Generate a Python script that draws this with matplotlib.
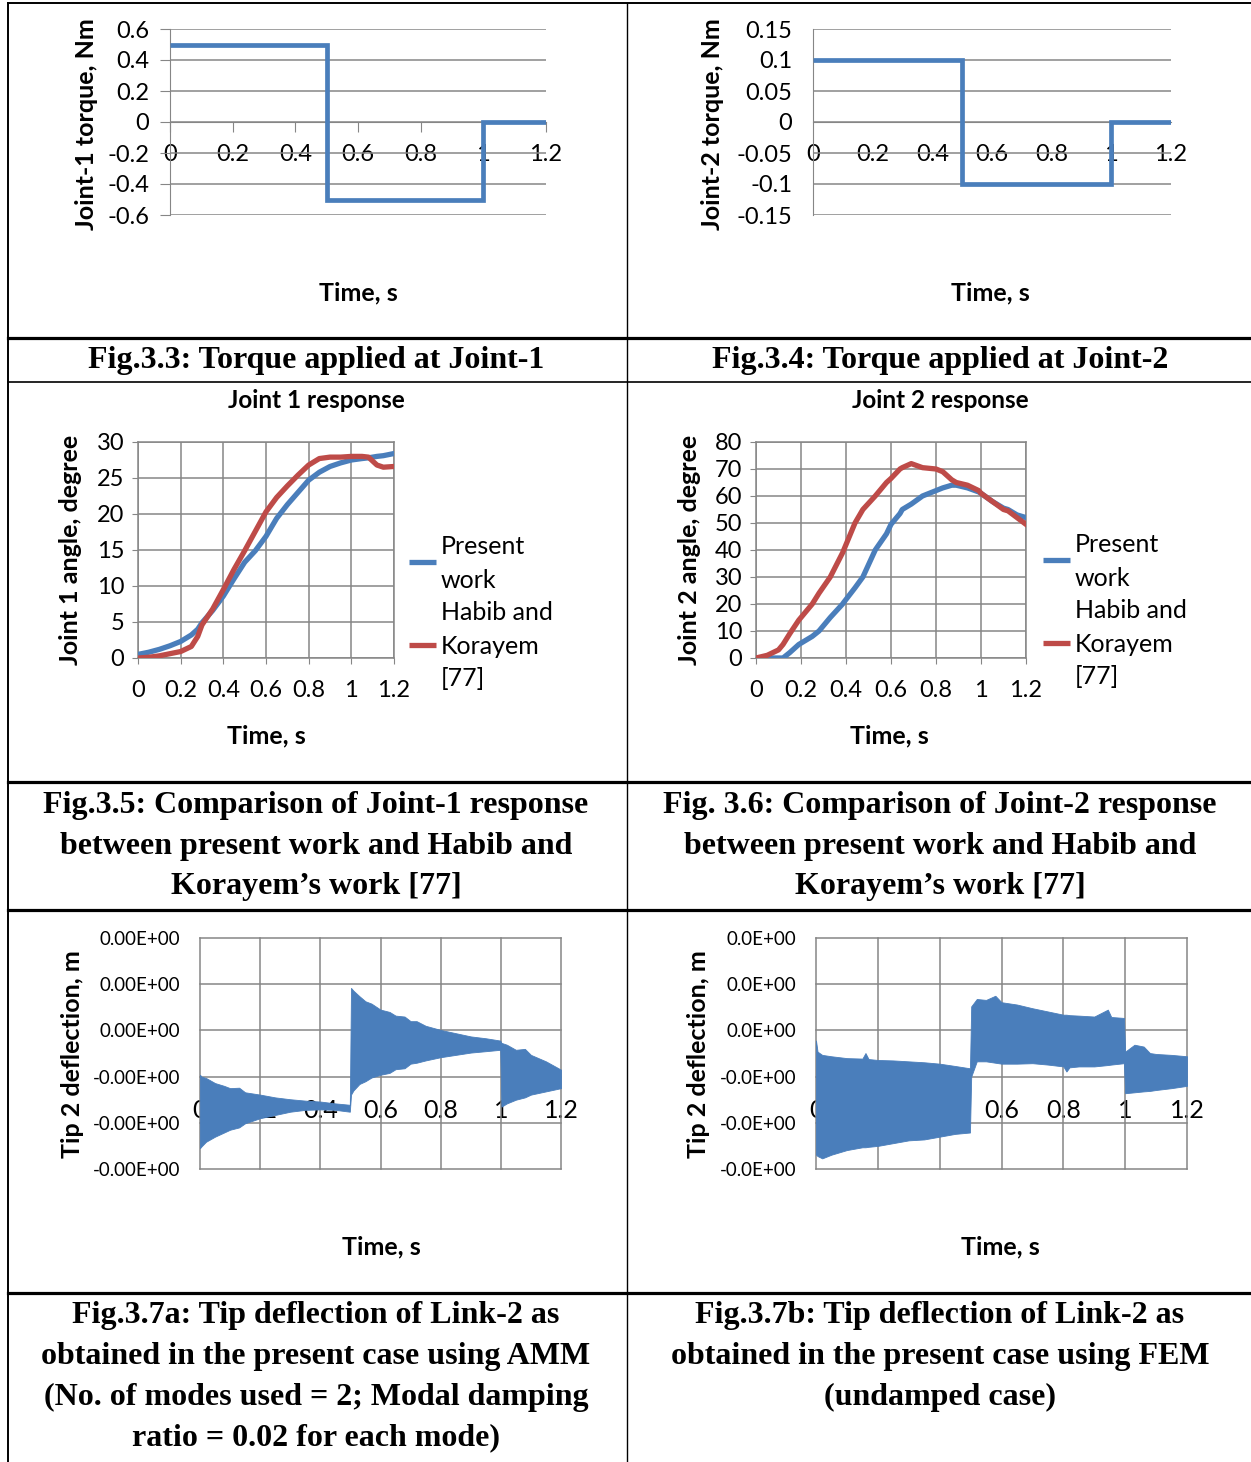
import matplotlib.pyplot as plt
from matplotlib.lines import Line2D

# ---- data ----
t_step = [0.0, 0.5, 0.5, 1.0, 1.0, 1.2]
torque1 = [0.5, 0.5, -0.5, -0.5, 0.0, 0.0]
torque2 = [0.1, 0.1, -0.1, -0.1, 0.0, 0.0]

time_ticks = [0, 0.2, 0.4, 0.6, 0.8, 1.0, 1.2]
time_labels = ['0', '0.2', '0.4', '0.6', '0.8', '1', '1.2']
tq1_ticks = [0.6, 0.4, 0.2, 0, -0.2, -0.4, -0.6]
tq1_labels = ['0.6', '0.4', '0.2', '0', '-0.2', '-0.4', '-0.6']
tq2_ticks = [0.15, 0.1, 0.05, 0, -0.05, -0.1, -0.15]
tq2_labels = ['0.15', '0.1', '0.05', '0', '-0.05', '-0.1', '-0.15']

# joint 1 response (degree)
t_j1 = [0, 0.05, 0.1, 0.15, 0.2, 0.25, 0.28, 0.3, 0.35, 0.4, 0.45, 0.5, 0.55, 0.6,
        0.65, 0.7, 0.75, 0.8, 0.85, 0.9, 0.95, 1.0, 1.05, 1.08, 1.12, 1.15, 1.2]
j1_present = [0.5, 0.8, 1.2, 1.7, 2.3, 3.2, 4.0, 4.9, 6.6, 8.6, 11.0, 13.3, 14.9, 16.9,
              19.4, 21.3, 23.0, 24.7, 25.8, 26.6, 27.1, 27.5, 27.7, 27.8, 28.0, 28.1, 28.4]
j1_habib = [0.0, 0.1, 0.3, 0.6, 0.9, 1.6, 3.0, 4.6, 6.8, 9.5, 12.3, 14.9, 17.6, 20.3,
            22.3, 23.9, 25.4, 26.8, 27.7, 27.9, 27.9, 28.0, 28.0, 27.9, 26.8, 26.5, 26.6]

# joint 2 response (degree)
t_j2 = [0, 0.05, 0.1, 0.12, 0.15, 0.19, 0.25, 0.28, 0.33, 0.385, 0.39, 0.44, 0.475, 0.53,
        0.58, 0.6, 0.64, 0.65, 0.69, 0.74, 0.8, 0.83, 0.87, 0.89, 0.94, 0.99, 1.0,
        1.05, 1.1, 1.12, 1.16, 1.2]
j2_present = [0.0, 0.0, 0.0, 0.0, 2.0, 5.0, 8.0, 10.0, 15.0, 20.0, 20.6, 26.0, 30.0, 40.0,
              46.0, 49.5, 53.5, 55.0, 57.0, 60.0, 62.0, 63.0, 64.0, 64.0, 63.0, 61.5, 61.0,
              58.0, 55.5, 55.0, 53.0, 52.0]
j2_habib = [0.0, 1.0, 3.0, 5.0, 9.0, 14.0, 20.0, 24.0, 30.0, 39.0, 40.0, 50.0, 55.0, 60.0,
            65.0, 66.5, 70.0, 70.5, 72.0, 70.5, 70.0, 69.0, 66.0, 65.0, 64.0, 62.0, 61.0,
            58.0, 55.0, 54.5, 52.0, 49.5]
j1_ticks = [0, 5, 10, 15, 20, 25, 30]
j2_ticks = [0, 10, 20, 30, 40, 50, 60, 70, 80]

# tip deflection envelopes (mm), AMM
t_amm = [0.0, 0.005, 0.02, 0.05, 0.08, 0.1, 0.13, 0.15, 0.2, 0.25, 0.3, 0.35, 0.4, 0.45,
         0.498, 0.502, 0.51, 0.53, 0.55, 0.57, 0.6, 0.63, 0.65, 0.68, 0.7, 0.72, 0.75,
         0.8, 0.85, 0.9, 0.95, 0.998, 1.002, 1.02, 1.05, 1.08, 1.1, 1.15, 1.2]
amm_upper = [-0.96, -1.00, -1.03, -1.14, -1.20, -1.25, -1.24, -1.34, -1.39, -1.45, -1.49,
             -1.52, -1.54, -1.58, -1.61, 0.92, 0.86, 0.74, 0.63, 0.58, 0.45, 0.40, 0.32,
             0.30, 0.20, 0.20, 0.10, 0.01, -0.06, -0.13, -0.17, -0.22, -0.27, -0.31,
             -0.42, -0.40, -0.53, -0.67, -0.85]
amm_lower = [-2.55, -2.51, -2.41, -2.30, -2.21, -2.15, -2.10, -2.01, -1.90, -1.83, -1.76,
             -1.72, -1.71, -1.72, -1.76, -1.39, -1.30, -1.16, -1.10, -1.02, -0.96, -0.92,
             -0.84, -0.82, -0.72, -0.70, -0.65, -0.58, -0.53, -0.48, -0.45, -0.42, -1.65,
             -1.58, -1.50, -1.45, -1.39, -1.32, -1.25]

# tip deflection envelopes (mm), FEM
t_fem = [0.0, 0.005, 0.02, 0.05, 0.1, 0.15, 0.16, 0.17, 0.2, 0.25, 0.3, 0.35, 0.4, 0.45,
         0.498, 0.502, 0.52, 0.55, 0.58, 0.6, 0.65, 0.7, 0.75, 0.8, 0.81, 0.82, 0.85, 0.9,
         0.944, 0.955, 0.996, 1.0, 1.03, 1.06, 1.08, 1.1, 1.15, 1.2]
fem_upper = [-0.22, -0.46, -0.53, -0.56, -0.60, -0.61, -0.49, -0.62, -0.64, -0.65, -0.67,
             -0.69, -0.72, -0.77, -0.82, 0.52, 0.68, 0.66, 0.75, 0.61, 0.56, 0.48, 0.41,
             0.34, 0.34, 0.33, 0.32, 0.30, 0.45, 0.29, 0.27, -0.46, -0.31, -0.35, -0.49,
             -0.51, -0.53, -0.56]
fem_lower = [-2.69, -2.72, -2.77, -2.69, -2.59, -2.53, -2.53, -2.52, -2.50, -2.44, -2.38,
             -2.36, -2.30, -2.24, -2.21, -1.00, -0.67, -0.67, -0.70, -0.72, -0.72, -0.71,
             -0.74, -0.78, -0.89, -0.80, -0.78, -0.78, -0.75, -0.74, -0.71, -1.36, -1.34,
             -1.32, -1.31, -1.29, -1.25, -1.20]
defl_ticks = [2, 1, 0, -1, -2, -3]
amm_labels = ['0.00E+00', '0.00E+00', '0.00E+00', '-0.00E+00', '-0.00E+00', '-0.00E+00']
fem_labels = ['0.0E+00', '0.0E+00', '0.0E+00', '-0.0E+00', '-0.0E+00', '-0.0E+00']

legend_present = ['Present', 'work']
legend_habib = ['Habib and', 'Korayem', '[77]']

BLUE = '#4A7EBB'
RED = '#BE4B48'
GRID = '#868686'
SANS = 'Lato'
SERIF = 'Liberation Serif'
TICK = 17
LABEL = 18

W, H = 1251, 1462
fig = plt.figure(figsize=(W / 100, H / 100), dpi=100)


def box(x0, y0, x1, y1):
    return fig.add_axes([x0 / W, 1 - y1 / H, (x1 - x0) / W, (y1 - y0) / H])


def ftext(x, y, s, **kw):
    kw.setdefault('family', SANS)
    fig.text(x / W, 1 - y / H, s, **kw)


def fline(xs, ys, **kw):
    fig.add_artist(Line2D([x / W for x in xs], [1 - y / H for y in ys],
                          transform=fig.transFigure, **kw))


def torque_chart(ax, tau, yticks, ylabels, ticklen, xpad, ypad):
    ax.plot(t_step, tau, color=BLUE, lw=3.4, solid_capstyle='butt',
            solid_joinstyle='miter', zorder=3)
    ax.set_xlim(0, 1.2)
    ax.set_ylim(yticks[-1], yticks[0])
    ax.set_yticks(yticks)
    ax.set_yticklabels(ylabels)
    ax.set_xticks(time_ticks)
    ax.set_xticklabels(time_labels)
    ax.yaxis.grid(True, color=GRID, lw=1.1)
    ax.set_axisbelow(True)
    ax.spines['top'].set_visible(False)
    ax.spines['right'].set_visible(False)
    ax.spines['left'].set_color(GRID)
    ax.spines['bottom'].set_color(GRID)
    ax.spines['bottom'].set_position(('data', 0))
    ax.tick_params(axis='x', direction='out', length=ticklen, color=GRID, pad=xpad,
                   labelsize=TICK)
    ax.tick_params(axis='y', direction='out', length=ticklen, color=GRID, pad=ypad,
                   labelsize=TICK)
    for lab in ax.get_xticklabels() + ax.get_yticklabels():
        lab.set_family(SANS)


def response_chart(ax, t, present, habib, yticks):
    ax.plot(t, present, color=BLUE, lw=3.8, zorder=3)
    ax.plot(t, habib, color=RED, lw=3.8, zorder=4)
    ax.set_xlim(0, 1.2)
    ax.set_ylim(yticks[0], yticks[-1])
    ax.set_xticks(time_ticks)
    ax.set_xticklabels(time_labels)
    ax.set_yticks(yticks)
    ax.grid(True, color=GRID, lw=1.1)
    ax.set_axisbelow(True)
    for s in ax.spines.values():
        s.set_color(GRID)
        s.set_linewidth(1.1)
    ax.tick_params(axis='x', direction='out', length=4, color=GRID, pad=12, labelsize=TICK)
    ax.tick_params(axis='y', direction='out', length=4, color=GRID, pad=6, labelsize=TICK)
    for lab in ax.get_xticklabels() + ax.get_yticklabels():
        lab.set_family(SANS)


def deflection_chart(ax, t, upper, lower, ylabels):
    ax.fill_between(t, lower, upper, color=BLUE, lw=0.6, edgecolor=BLUE, zorder=2)
    ax.set_xlim(0, 1.2)
    ax.set_ylim(-3, 2)
    for v in time_ticks:
        ax.axvline(v, color=GRID, lw=1.1, zorder=1, clip_on=False)
    for v in defl_ticks:
        ax.axhline(v, color=GRID, lw=1.1, zorder=1, clip_on=False)
    ax.set_xticks(time_ticks)
    ax.set_xticklabels(time_labels)
    ax.set_yticks(defl_ticks)
    ax.set_yticklabels(ylabels)
    ax.set_axisbelow(True)
    for s in ax.spines.values():
        s.set_visible(False)
    ax.spines['bottom'].set_position(('data', -1.45))
    ax.tick_params(axis='x', length=0, pad=1, labelsize=18)
    ax.tick_params(axis='y', length=0, pad=14, labelsize=13.5)
    for lab in ax.get_xticklabels() + ax.get_yticklabels():
        lab.set_family(SANS)


def legend(x0, y_blue, y_red, ys_text):
    fline([x0, x0 + 27], [y_blue, y_blue], color=BLUE, lw=3.8, solid_capstyle='butt')
    fline([x0, x0 + 27], [y_red, y_red], color=RED, lw=3.8, solid_capstyle='butt')
    for s, y in zip(legend_present + legend_habib, ys_text):
        ftext(x0 + 32, y, s, ha='left', va='center', fontsize=18)


def ylab(x, y, s):
    ftext(x, y, s, rotation=90, ha='center', va='center', fontsize=LABEL, fontweight='bold')


def xlab(x, y, s):
    ftext(x, y, s, ha='center', va='center', fontsize=LABEL, fontweight='bold')


# ---- row 1: torques ----
ax1 = box(170, 29, 546, 215)
torque_chart(ax1, torque1, tq1_ticks, tq1_labels, 7, 9, 8)
ax2 = box(813, 29, 1171, 215)
torque_chart(ax2, torque2, tq2_ticks, tq2_labels, 0, 16, 15)
ylab(86, 124, 'Joint-1 torque, Nm')
ylab(712, 124, 'Joint-2 torque, Nm')
xlab(358, 293, 'Time, s')
xlab(990, 293, 'Time, s')

# ---- row 2: joint responses ----
ax3 = box(138, 442, 394, 658)
response_chart(ax3, t_j1, j1_present, j1_habib, j1_ticks)
ax4 = box(756, 442, 1026, 658)
response_chart(ax4, t_j2, j2_present, j2_habib, j2_ticks)
ftext(316, 401, 'Joint 1 response', ha='center', va='center', fontsize=17.5, fontweight='bold')
ftext(940, 401, 'Joint 2 response', ha='center', va='center', fontsize=17.5, fontweight='bold')
ylab(71, 550, 'Joint 1 angle, degree')
ylab(689, 550, 'Joint 2 angle, degree')
xlab(266, 736, 'Time, s')
xlab(889, 736, 'Time, s')
legend(409, 562, 645, [547, 580, 613, 647, 678])
legend(1043, 560, 643, [545, 578, 610, 645, 677])

# ---- row 3: tip deflection ----
ax5 = box(200, 938, 561, 1169)
deflection_chart(ax5, t_amm, amm_upper, amm_lower, amm_labels)
ax6 = box(816, 938, 1187, 1169)
deflection_chart(ax6, t_fem, fem_upper, fem_lower, fem_labels)
ylab(73, 1054, 'Tip 2 deflection, m')
ylab(699, 1054, 'Tip 2 deflection, m')
xlab(381, 1247, 'Time, s')
xlab(1000, 1247, 'Time, s')

# ---- captions ----
cap = dict(ha='center', va='baseline', fontsize=23, fontweight='bold', family=SERIF)
ftext(316, 368, 'Fig.3.3: Torque applied at Joint-1', **cap)
ftext(940, 368, 'Fig.3.4: Torque applied at Joint-2', **cap)
for y, l, r in zip([813, 854, 894],
                   ['Fig.3.5: Comparison of Joint-1 response', 'between present work and Habib and',
                    'Korayem\u2019s work [77]'],
                   ['Fig. 3.6: Comparison of Joint-2 response', 'between present work and Habib and',
                    'Korayem\u2019s work [77]']):
    ftext(316, y, l, **cap)
    ftext(940, y, r, **cap)
for y, l in zip([1323, 1364, 1405, 1445],
                ['Fig.3.7a: Tip deflection of Link-2 as', 'obtained in the present case using AMM',
                 '(No. of modes used = 2; Modal damping', 'ratio = 0.02 for each mode)']):
    ftext(316, y, l, **cap)
for y, r in zip([1323, 1364, 1405],
                ['Fig.3.7b: Tip deflection of Link-2 as', 'obtained in the present case using FEM',
                 '(undamped case)']):
    ftext(940, y, r, **cap)

# ---- table rules ----
fline([8, 1251], [3, 3], color='black', lw=1.4)
for y in [338, 782, 910, 1293]:
    fline([8, 1251], [y, y], color='black', lw=2.3)
fline([8, 1251], [382, 382], color='black', lw=1.2)
fline([8, 8], [3, 1462], color='black', lw=1.4)
fline([627, 627], [3, 1462], color='black', lw=1.0)

fig.savefig('out.png', dpi=100)
